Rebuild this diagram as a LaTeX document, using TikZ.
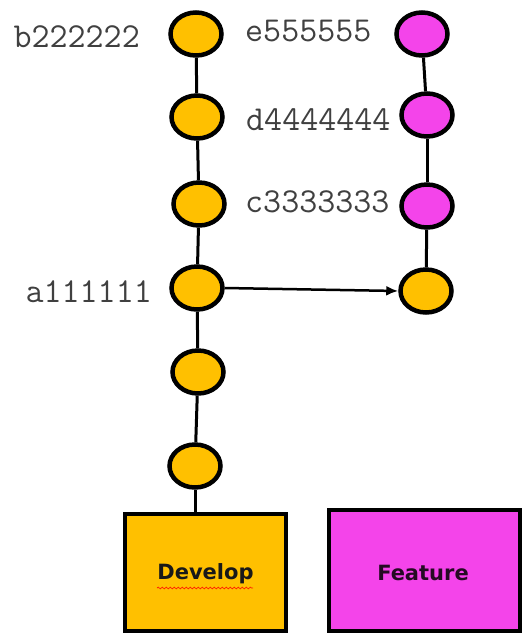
\documentclass[tikz,border=0pt]{standalone}
\usepackage{fontspec}
\usetikzlibrary{shapes.geometric,arrows.meta,decorations.pathmorphing}
\newfontfamily\boxfont{DejaVu Sans}
\definecolor{gold}{HTML}{FFC000}
\definecolor{magen}{HTML}{F444EA}
\definecolor{labgray}{HTML}{404040}
\tikzset{
  commit/.style={ellipse, draw=black, line width=4.5pt, minimum width=51pt, minimum height=43pt, inner sep=0pt},
  devc/.style={commit, fill=gold},
  featc/.style={commit, fill=magen},
  link/.style={draw=black, line width=3pt},
  hashlabel/.style={inner sep=0pt, text=labgray, font=\ttfamily\fontsize{35}{40}\selectfont},
  branchbox/.style={draw=black, line width=4.5pt, inner sep=0pt},
  branchtext/.style={inner sep=0pt, font=\boxfont\bfseries\fontsize{21}{25}\selectfont}
}
\begin{document}
\begin{tikzpicture}[x=1pt,y=-1pt]
\useasboundingbox[fill=white] (0,0) rectangle (525,635);
% develop column
\node[devc] (c1) at (196,34) {};
\node[devc] (c2) at (197,117) {};
\node[devc] (c3) at (199,204) {};
\node[devc] (c4) at (197,288) {};
\node[devc] (c5) at (198,372) {};
\node[devc] (c6) at (195,466) {};
% feature column
\node[featc] (f1) at (422,34) {};
\node[featc] (f2) at (427,115) {};
\node[featc] (f3) at (427,206) {};
\node[devc] (f4) at (426,291) {};
% branch boxes
\node[branchbox, fill=gold, minimum width=161pt, minimum height=117pt] (dev) at (205.5,572.5) {};
\node[branchbox, fill=magen, minimum width=191pt, minimum height=121pt] (feat) at (424.5,570.5) {};
\node[branchtext, text=black!90] (devt) at (205.5,574) {Develop};
\node[branchtext, text=black!85!magen] (featt) at (423,573) {Feature};
\coordinate (wl) at (157,588);
\coordinate (wr) at (253,588);
\draw[red!75!orange, line width=0.7pt, decorate, decoration={snake, segment length=4pt, amplitude=0.9pt}] (wl) -- (wr);
% connectors
\draw[link] (c1) -- (c2);
\draw[link] (c2) -- (c3);
\draw[link] (c3) -- (c4);
\draw[link] (c4) -- (c5);
\draw[link] (c5) -- (c6);
\draw[link] (c6.south) -- (c6.south |- dev.north);
\draw[link] (f1) -- (f2);
\draw[link] (f2) -- (f3);
\draw[link] (f3) -- (f4);
\draw[black, line width=2.5pt, -{Latex[length=12pt,width=10pt]}] (c4.east) -- (f4.west);
% labels
\node[hashlabel, anchor=base east] (lb) at (140,47) {b222222};
\node[hashlabel, anchor=base west] (le) at (245,41) {e555555};
\node[hashlabel, anchor=base west] (ld) at (246,130) {d4444444};
\node[hashlabel, anchor=base west] (lc) at (245,212) {c3333333};
\node[hashlabel, anchor=base east] (la) at (152,302) {a111111};
\end{tikzpicture}
\end{document}
